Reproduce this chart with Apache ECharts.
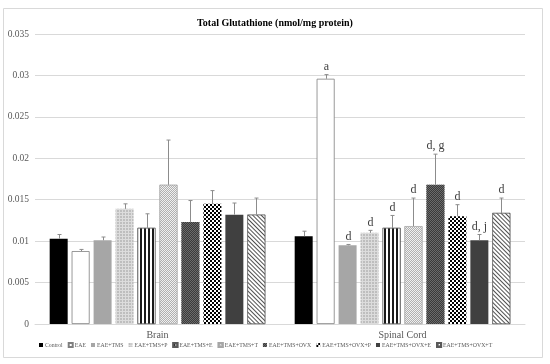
<!DOCTYPE html>
<html><head><meta charset="utf-8">
<script src="https://cdn.jsdelivr.net/npm/echarts@6/dist/echarts.min.js"></script>
<style>html,body{margin:0;padding:0;background:#fff}#c{width:550px;height:364px}</style>
</head><body><div id="c"></div>
<script>
const categories = ['Brain', 'Spinal Cord'];
const groups = ['Control', 'EAE', 'EAE+TMS', 'EAE+TMS+P', 'EAE+TMS+E', 'EAE+TMS+T',
  'EAE+TMS+OVX', 'EAE+TMS+OVX+P', 'EAE+TMS+OVX+E', 'EAE+TMS+OVX+T'];
const brainMean = [0.0103, 0.0088, 0.0101, 0.0139, 0.0116, 0.0168, 0.0123, 0.0145, 0.0132, 0.0132];
const brainSD = [0.0005, 0.0002, 0.0004, 0.0006, 0.0017, 0.0054, 0.0026, 0.0016, 0.0014, 0.0020];
const spinalMean = [0.0106, 0.0296, 0.0095, 0.0110, 0.0116, 0.0118, 0.0168, 0.0130, 0.0101, 0.0134];
const spinalSD = [0.0006, 0.0005, 0.0001, 0.0003, 0.0015, 0.0034, 0.0037, 0.0014, 0.0007, 0.0018];
const spinalLetters = ['', 'a', 'd', 'd', 'd', 'd', 'd, g', 'd', 'd, j', 'd'];
const yTicks = [0, 0.005, 0.01, 0.015, 0.02, 0.025, 0.03, 0.035];

const SERIF = '"Liberation Serif", "Times New Roman", serif';
const BAR_W = 18, GAP = 0.22;

const styles = [
  { color: '#000000' },
  { color: '#ffffff', borderColor: '#7f7f7f', borderWidth: 0.8 },
  { color: '#a6a6a6' },
  { color: '#dcdcdc', decal: { symbol: 'circle', symbolSize: 0.7, color: '#8c8c8c', dashArrayX: [2, 1], dashArrayY: [2, 1] } },
  { color: '#ffffff', borderColor: '#595959', borderWidth: 0.5, decal: { symbol: 'rect', symbolSize: 1, color: '#1a1a1a', dashArrayX: [1.5, 1.5], dashArrayY: [10, 0] } },
  { color: '#f0f0f0', borderColor: '#a6a6a6', borderWidth: 0.5, decal: { symbol: 'rect', symbolSize: 1, color: '#b0b0b0', dashArrayX: [[1, 1], [0, 1, 1, 0]], dashArrayY: [1, 0] } },
  { color: '#6b6b6b', decal: { symbol: 'rect', symbolSize: 1, color: '#3a3a3a', dashArrayX: [[1, 1], [0, 1, 1, 0]], dashArrayY: [1, 0] } },
  { color: '#ffffff', decal: { symbol: 'rect', symbolSize: 1, color: '#000000', dashArrayX: [[2, 2], [0, 2, 2, 0]], dashArrayY: [2, 0] } },
  { color: '#404040' },
  { color: '#ffffff', borderColor: '#595959', borderWidth: 0.5, decal: { symbol: 'rect', symbolSize: 1, color: '#505050', dashArrayX: [1, 0], dashArrayY: [1, 1.5], rotation: Math.PI / 4 } }
];

const barSeries = groups.map((g, i) => ({
  name: g,
  type: 'bar',
  barWidth: BAR_W,
  barGap: (GAP * 100) + '%',
  itemStyle: styles[i],
  data: [brainMean[i], spinalMean[i]],
  z: 2
}));

const errData = [];
groups.forEach((g, i) => {
  errData.push([0, i, brainMean[i], brainMean[i] + brainSD[i], '']);
  errData.push([1, i, spinalMean[i], spinalMean[i] + spinalSD[i], spinalLetters[i]]);
});

const errSeries = {
  type: 'custom',
  name: 'err',
  z: 5,
  silent: true,
  data: errData,
  encode: { x: 0, y: 3 },
  renderItem: function (params, api) {
    const cat = api.value(0), s = api.value(1), mean = api.value(2), top = api.value(3);
    const label = errData[params.dataIndex][4];
    const b = api.coord([cat, mean]);
    const t = api.coord([cat, top]);
    const n = groups.length;
    const step = BAR_W * (1 + GAP);
    const x = Math.round(b[0] + (s - (n - 1) / 2) * step) + 0.5;
    const children = [
      { type: 'line', shape: { x1: x, y1: b[1], x2: x, y2: t[1] }, style: { stroke: '#8c8c8c', lineWidth: 1 } },
      { type: 'line', shape: { x1: x - 2, y1: t[1], x2: x + 2, y2: t[1] }, style: { stroke: '#8c8c8c', lineWidth: 1 } }
    ];
    if (label) {
      children.push({ type: 'text', style: { text: label, x: x, y: t[1] - 2, align: 'center', verticalAlign: 'bottom', font: '12px ' + SERIF, fill: '#404040' } });
    }
    return { type: 'group', children: children };
  }
};

const chart = echarts.init(document.getElementById('c'), null, { renderer: 'canvas' });
chart.setOption({
  animation: false,
  backgroundColor: '#ffffff',
  graphic: [{ type: 'rect', shape: { x: 3.5, y: 8.5, width: 539, height: 349 }, style: { fill: 'none', stroke: '#d9d9d9', lineWidth: 1 }, z: -1 }],
  title: {
    text: 'Total Glutathione (nmol/mg protein)',
    left: 'center', top: 13,
    textStyle: { fontFamily: SERIF, fontSize: 10, fontWeight: 'bold', color: '#000000' }
  },
  legend: {
    data: groups,
    top: 342,
    left: 39,
    padding: 0,
    icon: 'rect',
    itemWidth: 4, itemHeight: 4, itemGap: 5,
    textStyle: { fontFamily: SERIF, fontSize: 5.8, color: '#595959', padding: [0, 0, 0, -3] }
  },
  grid: { left: 35, right: 25, top: 34, bottom: 40 },
  xAxis: {
    type: 'category',
    data: categories,
    axisLine: { lineStyle: { color: '#d9d9d9' } },
    axisTick: { show: false },
    axisLabel: { fontFamily: SERIF, fontSize: 10, color: '#595959', margin: 6 }
  },
  yAxis: {
    type: 'value',
    min: yTicks[0], max: yTicks[yTicks.length - 1], interval: yTicks[1] - yTicks[0],
    axisLine: { show: false },
    axisTick: { show: false },
    splitLine: { lineStyle: { color: '#d9d9d9' } },
    axisLabel: { fontFamily: SERIF, fontSize: 9.5, color: '#595959', margin: 6, formatter: v => String(+v.toFixed(3)) }
  },
  series: barSeries.concat([errSeries])
});
</script>
</body></html>
